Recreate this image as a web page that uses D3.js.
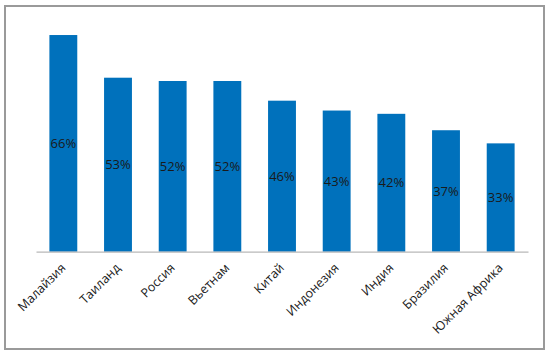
<!DOCTYPE html>
<html><head><meta charset="utf-8">
<script src="https://cdn.jsdelivr.net/npm/d3@7"></script>
<style>html,body{margin:0;padding:0;background:#fff;}svg{display:block;}</style>
</head><body><div id="chart"></div>
<script>
const categories = ["Малайзия","Таиланд","Россия","Вьетнам","Китай","Индонезия","Индия","Бразилия","Южная Африка"];
const values = [66,53,52,52,46,43,42,37,33];

const W = 550, H = 356;
const svg = d3.select("#chart").append("svg").attr("width", W).attr("height", H);

// frame
svg.append("rect").attr("x",5).attr("y",6).attr("width",539).attr("height",343)
  .attr("fill","#fff").attr("stroke","#9a9a9a").attr("stroke-width",2);

const x = d3.scaleBand().domain(categories).range([36, 528]).paddingInner(0.49).paddingOuter(0.245);
const y = d3.scaleLinear().domain([0, 70]).range([251.7, 21.9]);

svg.selectAll("rect.bar").data(values).enter().append("rect")
  .attr("class","bar")
  .attr("x",(d,i)=>x(categories[i]))
  .attr("y",d=>y(d))
  .attr("width",x.bandwidth())
  .attr("height",d=>y(0)-y(d))
  .attr("fill","#0071BC");

// axis
const axis = d3.axisBottom(x).tickSize(0).tickPadding(0);
const g = svg.append("g").attr("transform",`translate(0,${y(0)})`).call(axis);
g.select(".domain").attr("stroke","#b8b8b8").attr("stroke-width",1.2);
g.selectAll(".tick text")
  .attr("font-family","Open Sans, sans-serif").attr("font-size","12.5px").attr("fill","#1a1a1a")
  .attr("text-anchor","end").attr("dy",null).attr("y",0)
  .attr("transform","translate(3,17) rotate(-45)");

// value labels
svg.selectAll("text.val").data(values).enter().append("text")
  .attr("class","val")
  .attr("x",(d,i)=>x(categories[i])+x.bandwidth()/2)
  .attr("y",d=>(y(d)+y(0))/2)
  .attr("dy","0.35em")
  .attr("text-anchor","middle")
  .attr("font-family","Open Sans, sans-serif").attr("font-size","13px").attr("fill","#1a1a1a")
  .text(d=>d+"%");
</script></body></html>
